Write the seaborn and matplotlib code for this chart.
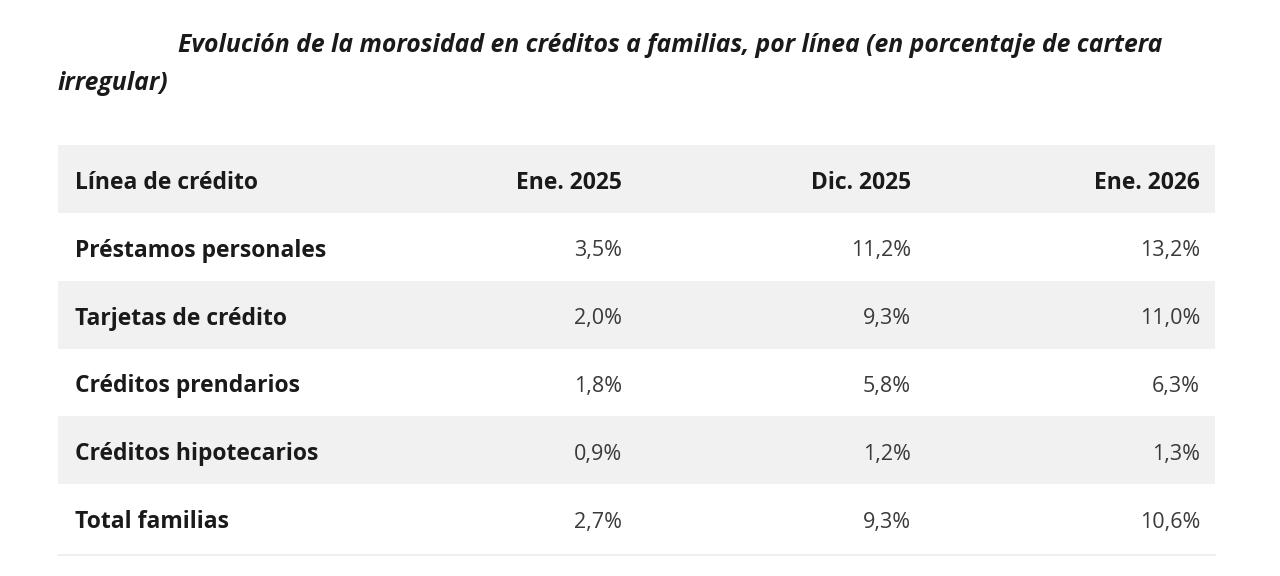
import numpy as np
import matplotlib
matplotlib.use('Agg')
import matplotlib.pyplot as plt
import matplotlib.transforms as mtransforms
from matplotlib.colors import ListedColormap
import seaborn as sns

title_line1 = 'Evolución de la morosidad en créditos a familias, por línea (en porcentaje de cartera'
title_line2 = 'irregular)'

header = ['Línea de crédito', 'Ene. 2025', 'Dic. 2025', 'Ene. 2026']
lines = ['Préstamos personales', 'Tarjetas de crédito', 'Créditos prendarios',
         'Créditos hipotecarios', 'Total familias']
ene_2025 = [3.5, 2.0, 1.8, 0.9, 2.7]
dic_2025 = [11.2, 9.3, 5.8, 1.2, 9.3]
ene_2026 = [13.2, 11.0, 6.3, 1.3, 10.6]


def fmt(v):
    return f'{v:.1f}%'.replace('.', ',')


def draw_table():
    sns.set_theme(style='white')
    plt.rcParams['font.family'] = ['Open Sans', 'DejaVu Sans']

    fig = plt.figure(figsize=(12.8, 5.76), dpi=100)
    ax = fig.add_axes([58 / 1280, 1 - 552 / 576, 1157 / 1280, 407 / 576])

    # striped rows: header + 5 data rows
    stripes = np.array([[1], [0], [1], [0], [1], [0]])
    sns.heatmap(stripes, ax=ax, cmap=ListedColormap(['#ffffff', '#f1f1f1']),
                cbar=False, xticklabels=False, yticklabels=False, vmin=0, vmax=1)
    ax.axhline(6.05, color='#ececec', linewidth=1.2, clip_on=False)

    trans = mtransforms.blended_transform_factory(ax.transAxes, ax.transData)
    col_x = [17 / 1157, 564 / 1157, 853 / 1157, 1142 / 1157]
    dy = 0.06

    for j, h in enumerate(header):
        ax.text(col_x[j], 0.5 + dy, h, transform=trans, ha='left' if j == 0 else 'right',
                va='center', fontsize=16.5, fontweight='bold', color='#1a1a1a')

    for i, name in enumerate(lines):
        y = i + 1.5 + dy
        ax.text(col_x[0], y, name, transform=trans, ha='left', va='center',
                fontsize=16.5, fontweight='bold', color='#1a1a1a')
        for j, vals in enumerate([ene_2025, dic_2025, ene_2026], start=1):
            ax.text(col_x[j], y, fmt(vals[i]), transform=trans, ha='right', va='center',
                    fontsize=15.5, color='#3a3a3a')

    fig.text(178 / 1280, 1 - 46 / 576, title_line1, ha='left', va='center',
             fontsize=17.8, fontweight='bold', fontstyle='italic', color='#1a1a1a')
    fig.text(58 / 1280, 1 - 84 / 576, title_line2, ha='left', va='center',
             fontsize=17.8, fontweight='bold', fontstyle='italic', color='#1a1a1a')

    fig.savefig('out.png', dpi=100, facecolor='white')


if __name__ == '__main__':
    draw_table()
